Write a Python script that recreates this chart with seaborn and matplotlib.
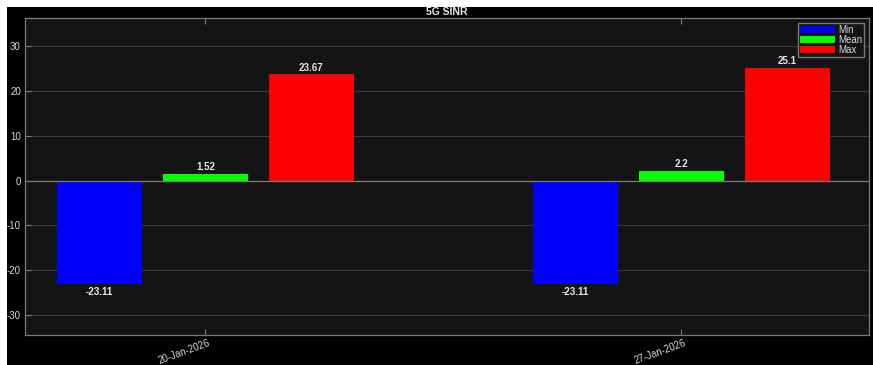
import matplotlib
matplotlib.use("Agg")
import matplotlib.pyplot as plt
from matplotlib.patches import Rectangle
import matplotlib.transforms as mtransforms
import seaborn as sns
import pandas as pd
import numpy as np

# data
dates = ["20-Jan-2026", "27-Jan-2026"]
stats = ["Min", "Mean", "Max"]
min_vals = [-23.11, -23.11]
mean_vals = [1.52, 2.2]
max_vals = [23.67, 25.1]
label_text = {"Min": ["-23.11", "-23.11"], "Mean": ["1.52", "2.2"], "Max": ["23.67", "25.1"]}
colors = ["#0000ff", "#00ff00", "#ff0000"]

rows = []
for stat, vals in zip(stats, [min_vals, mean_vals, max_vals]):
    for d, v in zip(dates, vals):
        rows.append({"date": d, "stat": stat, "value": v})
df = pd.DataFrame(rows)

sns.set_style("dark")
plt.rcParams['font.family'] = ['Liberation Sans', 'DejaVu Sans']
plt.rcParams['axes.unicode_minus'] = False

fig = plt.figure(figsize=(8.73, 3.65), dpi=100)
fig.patch.set_facecolor("white")
fig.add_artist(Rectangle((7 / 873, 0), 1 - 7 / 873, 1 - 7 / 365, transform=fig.transFigure,
                         facecolor="black", edgecolor="none", zorder=-1))

ax = fig.add_axes([25 / 873, 30 / 365, 844 / 873, 317 / 365])
ax.set_facecolor("#141414")

sns.barplot(data=df, x="date", y="value", hue="stat", hue_order=stats, order=dates,
            palette=colors, width=0.668, gap=0.2, saturation=1, edgecolor="none",
            errorbar=None, ax=ax, zorder=3)

# value labels
for cont, stat in zip(ax.containers, stats):
    for bar, txt in zip(cont, label_text[stat]):
        h = bar.get_height()
        x = bar.get_x() + bar.get_width() / 2
        if h >= 0:
            ax.text(x, h + 0.3, txt, ha="center", va="bottom", color="#e8e8e8",
                    fontsize=7, fontweight="bold", zorder=5)
        else:
            ax.text(x, h - 0.6, txt, ha="center", va="top", color="#e8e8e8",
                    fontsize=7, fontweight="bold", zorder=5)

ax.set_xlim(-0.379, 1.394)
ax.set_ylim(-34.4, 36.2)
ax.set_yticks(np.arange(-30, 31, 10))
ax.set_xlabel("")
ax.set_ylabel("")
ax.grid(axis="y", color="#3c3c3c", linewidth=0.8, zorder=0)
ax.grid(axis="x", visible=False)
ax.axhline(0, color="#7a7a7a", linewidth=0.9, zorder=4)

for s in ax.spines.values():
    s.set_visible(True)
    s.set_color("#7a7a7a")
    s.set_linewidth(0.9)

ax.tick_params(axis="both", direction="in", colors="#7a7a7a", length=4, width=0.8,
               labelcolor="#d8d8d8", labelsize=7, top=True, left=True, bottom=True)
ax.tick_params(axis="y", pad=3)
ax.tick_params(axis="x", pad=2, labelsize=7)
shift = mtransforms.ScaledTranslation(3 / 100, 0, fig.dpi_scale_trans)
for lab in ax.get_xticklabels():
    lab.set_rotation(20)
    lab.set_ha("right")
    lab.set_rotation_mode("anchor")
    lab.set_transform(lab.get_transform() + shift)

ax.set_title("5G SINR", color="#e8e8e8", fontsize=7.5, fontweight="bold", pad=2)

leg = ax.legend(loc="upper right", fontsize=7, handlelength=3.6, handleheight=0.8,
                labelspacing=0.0, borderpad=0.2, handletextpad=0.3, borderaxespad=0.5,
                facecolor="#141414", edgecolor="#7a7a7a", framealpha=1, fancybox=False)
for t in leg.get_texts():
    t.set_color("#d8d8d8")

fig.savefig("out.png", dpi=100, facecolor=fig.get_facecolor())
